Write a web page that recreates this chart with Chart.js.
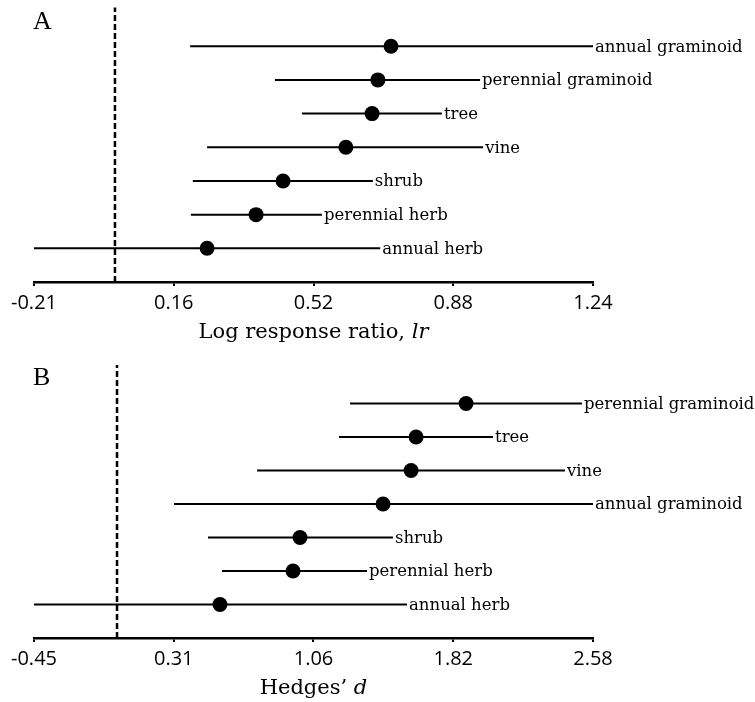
<!DOCTYPE html>
<html>
<head>
<meta charset="utf-8">
<script src="https://cdn.jsdelivr.net/npm/chart.js@4/dist/chart.umd.min.js"></script>
<style>
html,body{margin:0;padding:0;background:#fff;}
#wrap{position:relative;width:755px;height:702px;}
#cA{position:absolute;left:0;top:0;}
#cB{position:absolute;left:0;top:350px;}
</style>
</head>
<body>
<div id="wrap">
<canvas id="cA" width="755" height="350"></canvas>
<canvas id="cB" width="755" height="352"></canvas>
</div>
<script>
// ---- Panel A: log response ratio ----
const categoriesA = ['annual graminoid','perennial graminoid','tree','vine','shrub','perennial herb','annual herb'];
const meanA  = [0.716, 0.682, 0.667, 0.599, 0.436, 0.366, 0.239];
const lowerA = [0.195, 0.415, 0.485, 0.239, 0.202, 0.197, -0.21];
const upperA = [1.24, 0.947, 0.848, 0.955, 0.669, 0.537, 0.688];
const tickValuesA = [-0.21, 0.1525, 0.515, 0.8775, 1.24];
const tickLabelsA = ['-0.21','0.16','0.52','0.88','1.24'];
const titleA = ['Log response ratio, ', 'lr'];

// ---- Panel B: Hedges' d ----
const categoriesB = ['perennial graminoid','tree','vine','annual graminoid','shrub','perennial herb','annual herb'];
const meanB  = [1.892, 1.621, 1.594, 1.442, 0.992, 0.954, 0.558];
const lowerB = [1.263, 1.203, 0.759, 0.309, 0.493, 0.569, -0.45];
const upperB = [2.52, 2.038, 2.428, 2.58, 1.496, 1.355, 1.572];
const tickValuesB = [-0.45, 0.3075, 1.065, 1.8225, 2.58];
const tickLabelsB = ['-0.45','0.31','1.06','1.82','2.58'];
const titleB = ['Hedges\u2019 ', 'd'];

const referenceValue = 0;

function makeChart(id, letter, cats, mean, lower, upper, tickVals, tickLabs, title, pad) {
  const n = cats.length;
  const yOf = i => n - 1 - i;
  const yMin = -1, yMax = n + 0.15;
  const datasets = [];
  // zero reference line
  datasets.push({
    data: [{x: referenceValue, y: yMin}, {x: referenceValue, y: yMax}],
    showLine: true, borderColor: '#000', borderWidth: 2.5, borderDash: [6, 3],
    pointRadius: 0, clip: false
  });
  // confidence intervals
  cats.forEach((c, i) => {
    datasets.push({
      data: [{x: lower[i], y: yOf(i)}, {x: upper[i], y: yOf(i)}],
      showLine: true, borderColor: '#000', borderWidth: 2,
      pointRadius: 0, clip: false
    });
  });
  // means
  datasets.push({
    data: mean.map((m, i) => ({x: m, y: yOf(i)})),
    showLine: false, pointRadius: 7.5, pointBackgroundColor: '#000',
    pointBorderColor: '#000', pointBorderWidth: 0, clip: false
  });

  const labelPlugin = {
    id: 'labels_' + id,
    afterDraw(chart) {
      const ctx = chart.ctx;
      const xs = chart.scales.x, ys = chart.scales.y;
      ctx.save();
      ctx.fillStyle = '#000';
      // category labels
      ctx.font = '16.5px "DejaVu Serif"';
      ctx.textBaseline = 'middle';
      ctx.textAlign = 'left';
      cats.forEach((c, i) => {
        ctx.fillText(c, xs.getPixelForValue(upper[i]) + 2, ys.getPixelForValue(yOf(i)) + 1);
      });
      // panel letter
      ctx.font = '26px "Liberation Serif"';
      ctx.textBaseline = 'alphabetic';
      ctx.fillText(letter, 33, pad.letterY);
      // axis title (mixed styles)
      const f1 = '21px "DejaVu Serif"', f2 = 'italic 21px "DejaVu Serif"';
      ctx.font = f1; const w1 = ctx.measureText(title[0]).width;
      ctx.font = f2; const w2 = ctx.measureText(title[1]).width;
      const cx = (chart.chartArea.left + chart.chartArea.right) / 2;
      const ty = chart.chartArea.bottom + 51;
      let x0 = cx - (w1 + w2) / 2;
      ctx.textBaseline = 'middle';
      ctx.font = f1; ctx.fillText(title[0], x0, ty);
      ctx.font = f2; ctx.fillText(title[1], x0 + w1, ty);
      ctx.restore();
    }
  };

  return new Chart(document.getElementById(id), {
    type: 'scatter',
    data: { datasets },
    options: {
      responsive: false,
      animation: false,
      events: [],
      layout: { padding: { left: 34, right: 162, top: pad.top, bottom: pad.bottom } },
      plugins: { legend: { display: false }, tooltip: { enabled: false }, title: { display: false } },
      scales: {
        x: {
          type: 'linear',
          min: tickVals[0], max: tickVals[tickVals.length - 1],
          afterBuildTicks: axis => { axis.ticks = tickVals.map(v => ({value: v})); },
          grid: { display: true, drawOnChartArea: false, drawTicks: true, tickLength: 4, color: '#000', lineWidth: 2 },
          border: { display: true, color: '#000', width: 2.5 },
          ticks: {
            color: '#000', padding: 5, autoSkip: false, maxRotation: 0,
            font: { family: '"Open Sans"', size: 20 },
            callback: (v, idx) => tickLabs[idx]
          },
          title: { display: false }
        },
        y: { type: 'linear', min: yMin, max: yMax, display: false }
      }
    },
    plugins: [labelPlugin]
  });
}

makeChart('cA', 'A', categoriesA, meanA, lowerA, upperA, tickValuesA, tickLabelsA, titleA, {top: 7, bottom: 30, letterY: 29});
makeChart('cB', 'B', categoriesB, meanB, lowerB, upperB, tickValuesB, tickLabelsB, titleB, {top: 15, bottom: 26, letterY: 35});
</script>
</body>
</html>
